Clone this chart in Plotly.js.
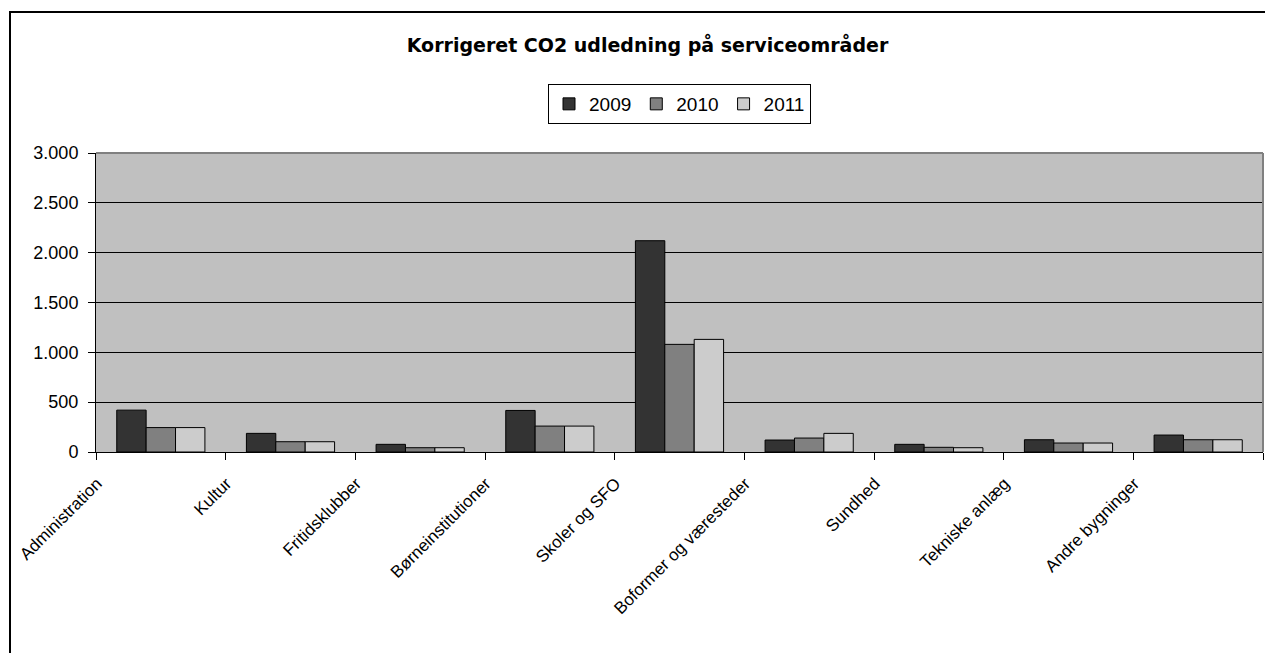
<!DOCTYPE html>
<html>
<head>
<meta charset="utf-8">
<script src="https://cdn.plot.ly/plotly-3.0.1.min.js"></script>
<style>
html,body{margin:0;padding:0;background:#fff;overflow:hidden;}
#wrap{position:relative;width:1265px;height:653px;overflow:hidden;}
#chart{width:1265px;height:653px;position:absolute;left:0;top:0;}
#ftop{position:absolute;left:9px;top:11px;width:1256px;height:2px;background:#000;pointer-events:none;}
#fleft{position:absolute;left:9px;top:11px;width:2px;height:642px;background:#000;pointer-events:none;}
</style>
</head>
<body>
<div id="wrap">
<div id="chart"></div>
<div id="ftop"></div>
<div id="fleft"></div>
</div>
<script>
const categories = ["Administration","Kultur","Fritidsklubber","Børneinstitutioner","Skoler og SFO","Boformer og væresteder","Sundhed","Tekniske anlæg","Andre bygninger"];
const seriesNames = ["2009","2010","2011"];
const values2009 = [420, 187, 77, 417, 2120, 120, 77, 123, 170];
const values2010 = [245, 103, 43, 260, 1080, 140, 47, 90, 123];
const values2011 = [245, 103, 43, 260, 1130, 187, 43, 90, 123];
const yTicks = [0, 500, 1000, 1500, 2000, 2500, 3000];

const colors = ["#333333", "#808080", "#cccccc"];
const allValues = [values2009, values2010, values2011];

const traces = allValues.map((v, i) => ({
  type: "bar",
  name: seriesNames[i],
  x: categories,
  y: v,
  marker: {color: colors[i], line: {color: "#000000", width: 1}}
}));

const layout = {
  width: 1265,
  height: 653,
  margin: {l: 96, r: 2, t: 153, b: 201},
  paper_bgcolor: "#ffffff",
  plot_bgcolor: "#c0c0c0",
  separators: ",.",
  barmode: "group",
  bargap: 0.32,
  bargroupgap: 0,
  showlegend: true,
  title: {
    text: "Korrigeret CO2 udledning på serviceområder",
    font: {family: "DejaVu Sans", size: 19, color: "#000", weight: "bold"},
    x: 647.5 / 1265, xref: "container", xanchor: "center",
    y: 1 - 45/653, yref: "container", yanchor: "middle"
  },
  legend: {
    orientation: "h",
    x: 0.5, xanchor: "center",
    y: 1 + (153 - 84) / 299, yanchor: "top",
    bgcolor: "#ffffff",
    bordercolor: "#000000",
    borderwidth: 1,
    font: {family: "Liberation Sans, Arial", size: 19, color: "#000"},
    itemwidth: 30,
    traceorder: "normal"
  },
  xaxis: {
    type: "category",
    tickson: "boundaries",
    ticks: "outside",
    ticklen: 7,
    tickcolor: "#000",
    tickangle: -45,
    ticklabelshift: -64,
    ticklabelstandoff: 14,
    tickfont: {family: "Liberation Sans, Arial", size: 17, color: "#000"},
    showline: true,
    linecolor: "#000",
    linewidth: 1,
    showgrid: false,
    zeroline: false
  },
  yaxis: {
    range: [0, 3000],
    tickvals: yTicks,
    tickformat: ",d",
    ticks: "outside",
    ticklen: 7,
    tickcolor: "#000",
    ticklabelstandoff: 6,
    tickfont: {family: "Liberation Sans, Arial", size: 18, color: "#000"},
    showline: true,
    linecolor: "#000",
    linewidth: 1,
    showgrid: true,
    gridcolor: "#000",
    gridwidth: 1,
    zeroline: false
  },
  shapes: [
    {type: "line", xref: "paper", yref: "paper", x0: 0, x1: 1, y0: 1, y1: 1, line: {color: "#808080", width: 2}, layer: "above"},
    {type: "line", xref: "paper", yref: "paper", x0: 1, x1: 1, y0: 0, y1: 1, line: {color: "#808080", width: 2}, layer: "above"}
  ]
};

Plotly.newPlot("chart", traces, layout, {displayModeBar: false, staticPlot: true});
</script>
</body>
</html>
